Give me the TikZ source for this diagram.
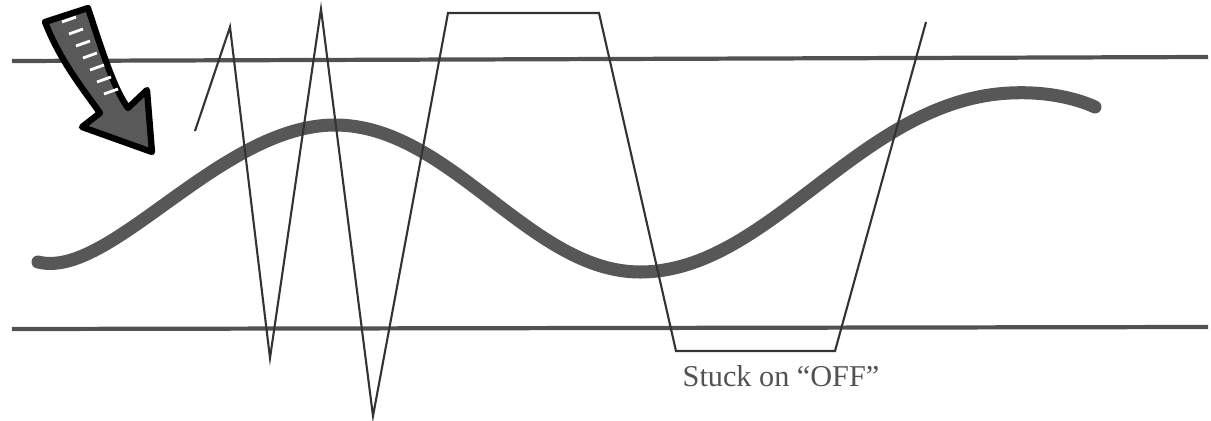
\documentclass[tikz,border=0pt]{standalone}
\usepackage{fontspec}
\setmainfont{Liberation Serif}
\usepackage{tikz}
\usetikzlibrary{positioning}

\begin{document}
\begin{tikzpicture}[x=0.01cm, y=-0.01cm,
  railline/.style={draw=black!68, line width=1.2pt},
  sigwave/.style={draw=black!66, line width=3.7pt, line cap=round},
  pwmline/.style={draw=black!80, line width=0.6pt, line join=miter},
  bigarrow/.style={draw=black, line width=1.8pt, fill=black!65, line join=round},
  lbl/.style={font=\fontsize{8.6}{10}\selectfont, text=black!68, inner sep=1pt}
]
\useasboundingbox (0,0) rectangle (1211,421);

% rails
\coordinate (tl) at (12,61);
\coordinate (tr) at (1208,57);
\coordinate (bl) at (12,329);
\coordinate (br) at (1208,327);
\draw[railline] (tl) -- (tr);
\draw[railline] (bl) -- (br);

% sine input
\draw[sigwave] (38,262) .. controls (110,280) and (220,125) .. (335,125)
  .. controls (450,125) and (530,272) .. (640,272)
  .. controls (770,272) and (860,100) .. (1010,93)
  .. controls (1050,91) and (1080,100) .. (1095,107);

% output
\coordinate (p0) at (195,131);
\coordinate (p1) at (230,27);
\coordinate (p2) at (270,358);
\coordinate (p3) at (321,9);
\coordinate (p4) at (373,416);
\coordinate (p5) at (448,13);
\coordinate (p6) at (599,13);
\coordinate (p7) at (676,351);
\coordinate (p8) at (835,351);
\coordinate (p9) at (926,22);
\draw[pwmline] (p0) -- (p1) -- (p2) -- (p3) -- (p4) -- (p5) -- (p6) -- (p7) -- (p8) -- (p9);

% arrow
\draw[bigarrow] (45,22) -- (88,8) .. controls (105,60) and (115,90) .. (128,108)
  -- (147,90) -- (152,152) -- (82,127) -- (100,113)
  .. controls (80,85) and (60,60) .. cycle;
\foreach \k in {0,...,6}
  \draw[white, line width=0.8pt] (62+\k*7,22+\k*12) -- ++(14,-5);

\node[lbl, anchor=base] (stuck) at (781,386) {Stuck on “OFF”};

\end{tikzpicture}
\end{document}
